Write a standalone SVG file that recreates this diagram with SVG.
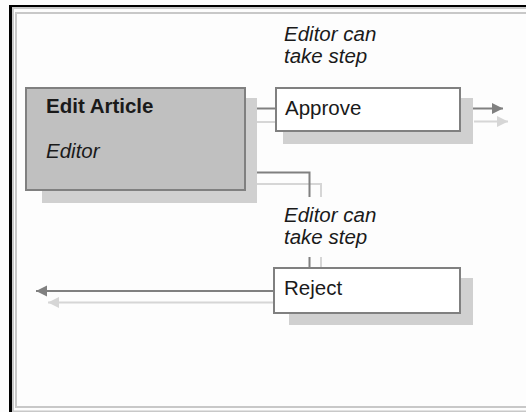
<svg xmlns="http://www.w3.org/2000/svg" width="526" height="412" viewBox="0 0 526 412">
<style>
text{font-family:"Liberation Sans",Arial,sans-serif;font-size:20.5px;fill:#1a1a1a}
.b{font-weight:bold}
.i{font-style:italic}
.shadow{fill:#d0d0d0}
.box{stroke:#808080;stroke-width:2}
.dk{stroke:#808080;stroke-width:2;fill:none}
.lt{stroke:#d6d6d6;stroke-width:2;fill:none}
</style>
<defs>
<marker id="ad" markerUnits="userSpaceOnUse" markerWidth="12" markerHeight="12" refX="11" refY="5.5" orient="auto"><path d="M0,0 L11,5.5 L0,11 z" fill="#808080"/></marker>
<marker id="al" markerUnits="userSpaceOnUse" markerWidth="12" markerHeight="12" refX="11" refY="5.5" orient="auto"><path d="M0,0 L11,5.5 L0,11 z" fill="#d6d6d6"/></marker>
</defs>
<rect x="0" y="0" width="526" height="412" fill="#fdfdfd"/>
<g id="frame">
<rect x="9" y="5" width="517" height="2" fill="#000"/>
<rect x="9" y="5" width="3" height="407" fill="#000"/>
<rect x="12" y="7" width="514" height="2" fill="#c8c8c8"/>
<rect x="12" y="7" width="2" height="405" fill="#c8c8c8"/>
<rect x="12" y="410.5" width="514" height="1.5" fill="#c8c8c8"/>
<rect x="16" y="13" width="520" height="394" fill="none" stroke="#c8c8c8" stroke-width="2"/>
</g>
<g id="connectors">
<path class="lt" d="M257,122 H275"/>
<path class="dk" d="M246,108.5 H275"/>
<path class="lt" d="M474,121.5 H508" marker-end="url(#al)"/>
<path class="dk" d="M461,108.5 H503" marker-end="url(#ad)"/>
<path class="lt" d="M257,184 H321 V197 M321,257 V267"/>
<path class="dk" d="M246,172.5 H309.5 V197 M309.5,257 V267"/>
<path class="lt" d="M273,302.5 H48" marker-end="url(#al)"/>
<path class="dk" d="M273,291 H36" marker-end="url(#ad)"/>
</g>
<g id="edit-article">
<rect class="shadow" x="42" y="98" width="215" height="105"/>
<rect class="box" x="26" y="88" width="219" height="102" fill="#c0c0c0"/>
<text class="b" x="46" y="113">Edit Article</text>
<text class="i" x="46" y="158">Editor</text>
</g>
<g id="approve">
<rect class="shadow" x="283" y="98" width="190" height="46"/>
<rect class="box" x="276" y="88" width="184" height="43" fill="#fff"/>
<text x="285" y="115">Approve</text>
</g>
<g id="reject">
<rect class="shadow" x="289" y="278" width="184" height="47"/>
<rect class="box" x="274" y="268" width="186" height="45" fill="#fff"/>
<text x="284" y="295">Reject</text>
</g>
<g id="label-approve">
<text class="i" x="284" y="41">Editor can</text>
<text class="i" x="284" y="63">take step</text>
</g>
<g id="label-reject">
<text class="i" x="284" y="221.5">Editor can</text>
<text class="i" x="284" y="243.5">take step</text>
</g>
</svg>
